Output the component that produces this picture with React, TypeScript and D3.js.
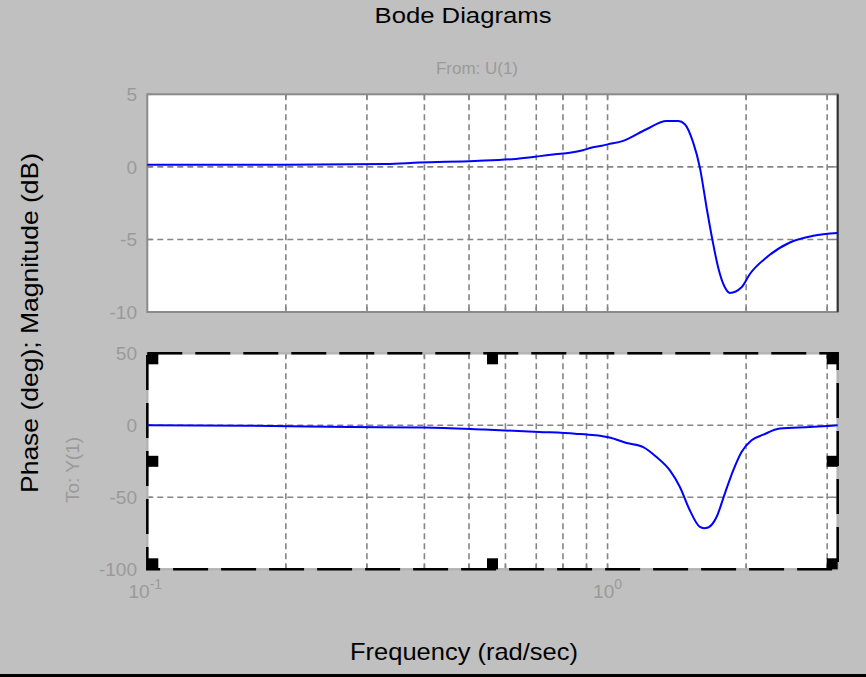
import React from "react";
import * as d3 from "d3";

const magFreq = [0.1, 0.2, 0.33, 0.39, 0.515, 0.632, 0.713, 0.769, 0.828, 0.884, 0.925, 0.972, 1.0, 1.081, 1.215, 1.343, 1.424, 1.472, 1.535, 1.587, 1.641, 1.691, 1.739, 1.798, 1.844, 1.955, 2.038, 2.215, 2.489, 2.797, 3.162];
const magDb = [0.14, 0.15, 0.2, 0.3, 0.41, 0.55, 0.74, 0.87, 0.98, 1.15, 1.33, 1.46, 1.55, 1.79, 2.59, 3.16, 3.16, 2.94, 1.67, -0.05, -2.8, -5.09, -6.93, -8.3, -8.69, -8.3, -7.38, -6.24, -5.21, -4.75, -4.56];

const phaseFreq = [0.1, 0.165, 0.276, 0.4, 0.54, 0.71, 0.85, 0.94, 1.01, 1.1, 1.195, 1.277, 1.366, 1.436, 1.509, 1.587, 1.62, 1.654, 1.725, 1.798, 1.875, 1.955, 2.055, 2.18, 2.368, 2.75, 3.162];
const phaseDeg = [0, -0.3, -1.2, -1.6, -3.0, -4.6, -5.8, -6.9, -8.5, -12.3, -15.1, -22, -31.3, -42.8, -59, -70.6, -71.5, -71, -63.7, -47.4, -31.3, -18.5, -10.4, -6.5, -2.3, -1.2, 0];

const gridFreqs = [0.2, 0.3, 0.4, 0.5, 0.6, 0.7, 0.8, 0.9, 1, 2, 3];
const magTicks = [5, 0, -5, -10];
const magGrid = [0, -5];
const phaseTicks = [50, 0, -50, -100];
const phaseGrid = [0, -50];
const xTickExps = [-1, 0];

const FONT = "'Liberation Sans', Arial, sans-serif";
const W = 866, H = 677;
const L = 147.3, R = 837.7;
const MT = 94.3, MB = 312;
const PT = 353.3, PB = 569.3;

export default function App() {
  const x = d3.scaleLog().domain([0.1, Math.sqrt(10)]).range([L, R]);
  const yMag = d3.scaleLinear().domain([-10, 5]).range([MB, MT]);
  const yPh = d3.scaleLinear().domain([-100, 50]).range([PB, PT]);

  const magLine = d3.line<number>().x((_, i) => x(magFreq[i])).y((d) => yMag(d)).curve(d3.curveMonotoneX);
  const phLine = d3.line<number>().x((_, i) => x(phaseFreq[i])).y((d) => yPh(d)).curve(d3.curveMonotoneX);

  const gridColor = "#858585";
  const tickColor = "#9a9a9a";

  const vGrid = (top: number, bottom: number) =>
    gridFreqs.map((f) => (
      <line key={"v" + f} x1={x(f)} x2={x(f)} y1={top} y2={bottom} stroke={gridColor} strokeWidth={1.6} strokeDasharray="6,4" />
    ));
  const ticksX = (top: number, bottom: number) =>
    gridFreqs.map((f) => (
      <g key={"t" + f}>
        <line x1={x(f)} x2={x(f)} y1={top} y2={top + 5} stroke={gridColor} strokeWidth={1.5} />
        <line x1={x(f)} x2={x(f)} y1={bottom} y2={bottom - 5} stroke={gridColor} strokeWidth={1.5} />
      </g>
    ));

  const hx = [L, (L + R) / 2, R];
  const hy = [PT, (PT + PB) / 2, PB];
  const handles: [number, number][] = [];
  hx.forEach((a, i) =>
    hy.forEach((b, j) => {
      if (i === 1 && j === 1) return;
      handles.push([a, b]);
    })
  );
  const hs = 11;

  return (
    <svg width={W} height={H} style={{ position: "absolute", left: 0, top: 0, display: "block" }} fontFamily={FONT}>
      <rect x={0} y={0} width={W} height={H} fill="#c0c0c0" />
      <rect x={0} y={H - 3} width={W} height={3} fill="#000" />

      <text x={463} y={23} textAnchor="middle" fontSize={22} fill="#000" textLength={177} lengthAdjust="spacingAndGlyphs">Bode Diagrams</text>
      <text x={477} y={74} textAnchor="middle" fontSize={17} fill={tickColor} textLength={82} lengthAdjust="spacingAndGlyphs">From: U(1)</text>

      {/* Magnitude axes */}
      <rect x={L} y={MT} width={R - L} height={MB - MT} fill="#fff" />
      {vGrid(MT, MB)}
      {magGrid.map((v) => (
        <line key={"mg" + v} x1={L} x2={R} y1={yMag(v)} y2={yMag(v)} stroke={gridColor} strokeWidth={1.6} strokeDasharray="6,4" />
      ))}
      {ticksX(MT, MB)}
      {magTicks.map((v) => (
        <g key={"mt" + v}>
          <line x1={L} x2={L + 5} y1={yMag(v)} y2={yMag(v)} stroke={gridColor} strokeWidth={1.5} />
          <line x1={R} x2={R - 5} y1={yMag(v)} y2={yMag(v)} stroke={gridColor} strokeWidth={1.5} />
          <text x={137} y={yMag(v) + 7} textAnchor="end" fontSize={19} fill={tickColor}>{v}</text>
        </g>
      ))}
      <rect x={L} y={MT} width={R - L} height={MB - MT} fill="none" stroke="#8a8a8a" strokeWidth={2} />
      <line x1={R} x2={R} y1={MT} y2={MB} stroke="#333" strokeWidth={2} />
      <path d={magLine(magDb) || ""} fill="none" stroke="#0000ff" strokeWidth={2} />

      {/* Phase axes */}
      <rect x={L} y={PT} width={R - L} height={PB - PT} fill="#fff" />
      {vGrid(PT, PB)}
      {phaseGrid.map((v) => (
        <line key={"pg" + v} x1={L} x2={R} y1={yPh(v)} y2={yPh(v)} stroke={gridColor} strokeWidth={1.6} strokeDasharray="6,4" />
      ))}
      {ticksX(PT, PB)}
      {phaseTicks.map((v) => (
        <g key={"pt" + v}>
          <line x1={L} x2={L + 5} y1={yPh(v)} y2={yPh(v)} stroke={gridColor} strokeWidth={1.5} />
          <line x1={R} x2={R - 5} y1={yPh(v)} y2={yPh(v)} stroke={gridColor} strokeWidth={1.5} />
          <text x={137} y={yPh(v) + 7} textAnchor="end" fontSize={19} fill={tickColor}>{v}</text>
        </g>
      ))}
      <rect x={L} y={PT} width={R - L} height={PB - PT} fill="none" stroke="#b4b4b4" strokeWidth={2.5} />
      <rect x={L} y={PT} width={R - L} height={PB - PT} fill="none" stroke="#000" strokeWidth={2.5} strokeDasharray="35,13" />
      <path d={phLine(phaseDeg) || ""} fill="none" stroke="#0000ff" strokeWidth={2} />
      {handles.map(([a, b], i) => {
        const rx = a === L ? a : a === R ? a - hs : a - hs / 2;
        const ry = b === PT ? b : b === PB ? b - hs : b - hs / 2;
        return <rect key={"h" + i} x={rx} y={ry} width={hs} height={hs} fill="#000" />;
      })}

      {/* X tick labels */}
      {xTickExps.map((e) => (
        <text key={"xe" + e} x={x(Math.pow(10, e)) - (e < 0 ? 2 : 0)} y={598} textAnchor="middle" fontSize={19} fill={tickColor}>
          10<tspan dy={-9} fontSize={14}>{e}</tspan>
        </text>
      ))}

      <text x={464} y={660} textAnchor="middle" fontSize={24} fill="#000" textLength={228} lengthAdjust="spacingAndGlyphs">Frequency (rad/sec)</text>
      <text transform="translate(38,323) rotate(-90)" textAnchor="middle" fontSize={24} fill="#000" textLength={340} lengthAdjust="spacingAndGlyphs">Phase (deg); Magnitude (dB)</text>
      <text transform="translate(79,470) rotate(-90)" textAnchor="middle" fontSize={18} fill={tickColor} textLength={66} lengthAdjust="spacingAndGlyphs">To: Y(1)</text>
    </svg>
  );
}
